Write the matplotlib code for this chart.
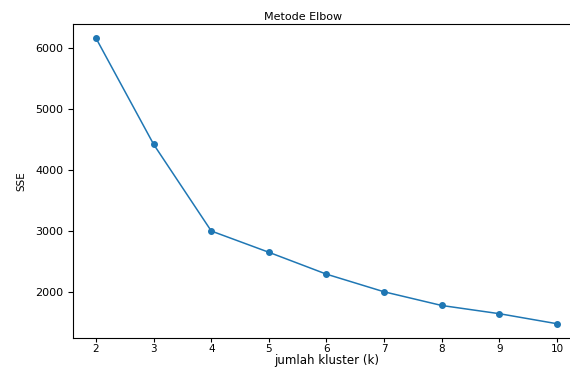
import matplotlib
matplotlib.use("Agg")
import matplotlib.pyplot as plt

k_values = [2, 3, 4, 5, 6, 7, 8, 9, 10]
sse_values = [6165, 4420, 2995, 2645, 2285, 1995, 1770, 1635, 1470]
y_ticks = [2000, 3000, 4000, 5000, 6000]

W, H = 570, 367
fig = plt.figure(figsize=(W / 100, H / 100), dpi=100)
left, right, top, bottom = 73, 580, 24, 338
ax = fig.add_axes([left / W, (H - bottom) / H, (right - left) / W, (bottom - top) / H])

ax.plot(k_values, sse_values, marker='o', color='#1f77b4', linewidth=1.1, markersize=4)
ax.set_yticks(y_ticks)
ax.set_xticks(k_values)
ax.tick_params(axis='y', labelsize=8)
ax.tick_params(axis='x', labelsize=7.5, pad=1.5, length=3)
ax.set_title("Metode Elbow", fontsize=8, x=0.454, pad=3)
ax.set_xlabel("jumlah kluster (k)", fontsize=8.5, labelpad=0)
ax.set_ylabel("SSE", fontsize=7.5, labelpad=6)

fig.savefig("out.png", dpi=100)
